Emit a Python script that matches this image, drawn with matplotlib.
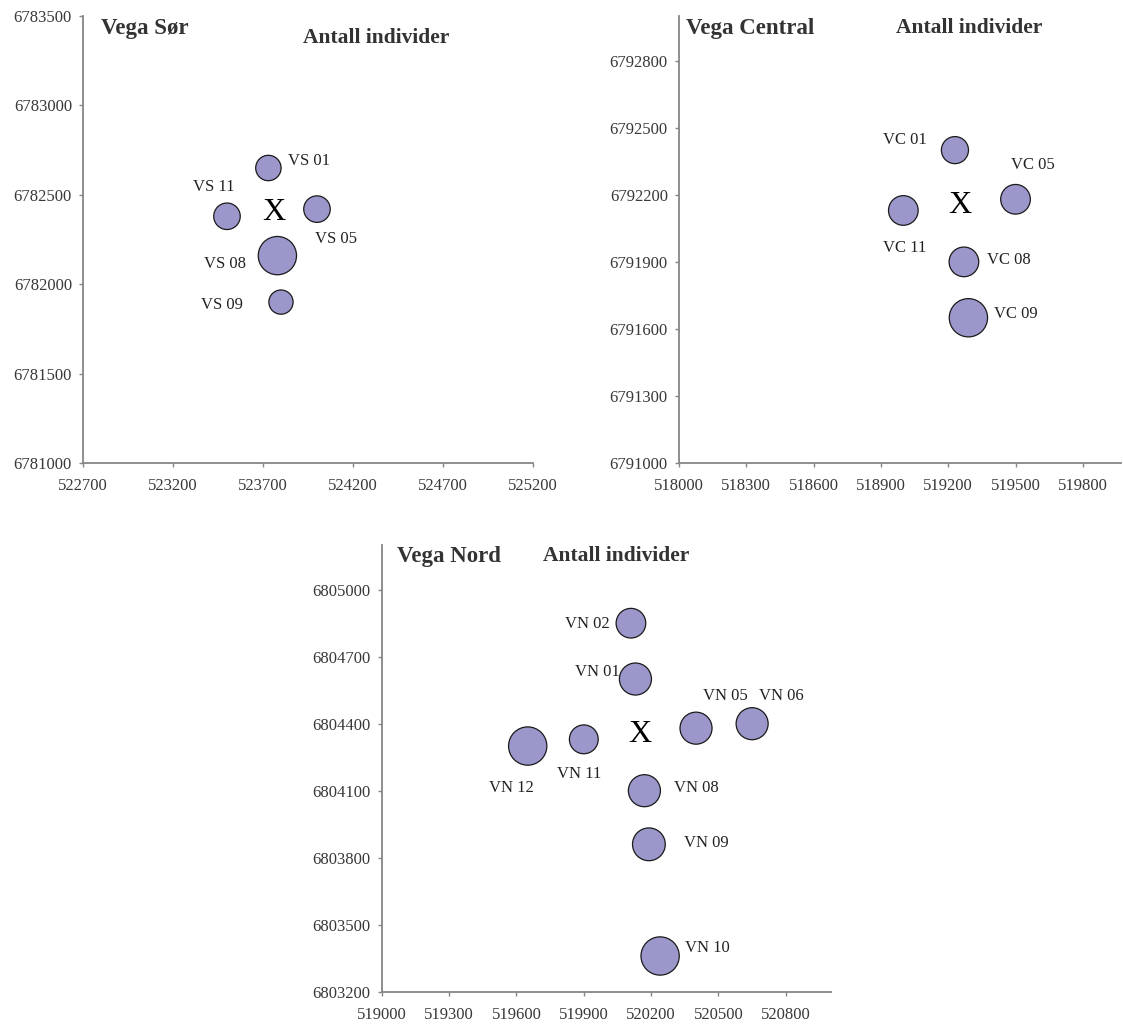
import matplotlib
matplotlib.use("Agg")
import matplotlib.pyplot as plt
import numpy as np

plt.rcParams["font.family"] = ["Liberation Serif", "DejaVu Serif"]

# Vega Sør
sor_navn = ["VS 01", "VS 11", "VS 05", "VS 08", "VS 09"]
sor_x = [523730, 523500, 524000, 523780, 523800]
sor_y = [6782650, 6782380, 6782420, 6782160, 6781900]
sor_antall = [11, 12, 12, 25, 10]
sor_senter = (523760, 6782400)
sor_xticks = [522700, 523200, 523700, 524200, 524700, 525200]
sor_yticks = [6781000, 6781500, 6782000, 6782500, 6783000, 6783500]

# Vega Central
sen_navn = ["VC 01", "VC 05", "VC 11", "VC 08", "VC 09"]
sen_x = [519230, 519500, 519000, 519270, 519290]
sen_y = [6792400, 6792180, 6792130, 6791900, 6791650]
sen_antall = [10, 12, 12, 12, 20]
sen_senter = (519250, 6792150)
sen_xticks = [518000, 518300, 518600, 518900, 519200, 519500, 519800]
sen_yticks = [6791000, 6791300, 6791600, 6791900, 6792200, 6792500, 6792800]

# Vega Nord
nor_navn = ["VN 02", "VN 01", "VN 05", "VN 06", "VN 11", "VN 12", "VN 08", "VN 09", "VN 10"]
nor_x = [520110, 520130, 520400, 520650, 519900, 519650, 520170, 520190, 520240]
nor_y = [6804850, 6804600, 6804380, 6804400, 6804330, 6804300, 6804100, 6803860, 6803360]
nor_antall = [18, 21, 21, 21, 17, 30, 21, 22, 30]
nor_senter = (520150, 6804350)
nor_xticks = [519000, 519300, 519600, 519900, 520200, 520500, 520800]
nor_yticks = [6803200, 6803500, 6803800, 6804100, 6804400, 6804700, 6805000]

# label offsets (pixels) relative to bubble centre
sor_off = [(41, 7), (-13, 29), (19, -30), (-52, -8), (-59, -3)]
sen_off = [(-50, 10), (17, 34), (1, -38), (45, 2), (47, 4)]
nor_off = [(-44, -1), (-38, 7), (29, 32), (29, 28), (-5, -35), (-16, -42), (52, 3), (57, 1), (47, 8)]

fig = plt.figure(figsize=(11.23, 10.26), dpi=100)
GRA = "#868686"
BOBLE = "#9b97cb"
MAX_S = 760  # points^2 for the biggest bubble in each chart


def panel(rect, navn, xs, ys, antall, senter, xticks, yticks, xlim, ylim, off, tittel, tx, ty):
    ax = fig.add_axes(rect)
    a = np.array(antall, dtype=float)
    s = MAX_S * a / a.max()
    ax.scatter(xs, ys, s=s, color=BOBLE, edgecolors="#1a1a1a", linewidths=0.9, zorder=3, clip_on=False)
    for n, x, y, o in zip(navn, xs, ys, off):
        ax.annotate(n, (x, y), xytext=o, textcoords="offset pixels",
                    ha="center", va="center", fontsize=12, color="#222222")
    ax.text(senter[0], senter[1], "X", fontsize=23, ha="center", va="center", color="black")
    ax.set_xlim(*xlim)
    ax.set_ylim(*ylim)
    ax.set_xticks(xticks)
    ax.set_xticklabels([str(t) for t in xticks])
    ax.set_yticks(yticks)
    ax.set_yticklabels([str(t) for t in yticks])
    for sp in ["top", "right"]:
        ax.spines[sp].set_visible(False)
    for sp in ["left", "bottom"]:
        ax.spines[sp].set_color(GRA)
        ax.spines[sp].set_linewidth(1.3)
    ax.tick_params(direction="out", length=3, width=1, color=GRA,
                   labelsize=12, labelcolor="#383838")
    ax.tick_params(axis="x", pad=8)
    ax.tick_params(axis="y", pad=5)
    ax.text(tx[0], ty[0], tittel, transform=ax.transAxes, fontsize=16.5, fontweight="bold",
            color="#333333", ha="left", va="center")
    ax.text(tx[1], ty[1], "Antall individer", transform=ax.transAxes, fontsize=15.5,
            fontweight="bold", color="#333333", ha="left", va="center")
    return ax


panel([0.0739, 0.5487, 0.4007, 0.4357], sor_navn, sor_x, sor_y, sor_antall, sor_senter,
      sor_xticks, sor_yticks, (522700, 525200), (6781000, 6783500), sor_off,
      "Vega Sør", (0.04, 0.49), (0.972, 0.95))

panel([0.6046, 0.5487, 0.3936, 0.4357], sen_navn, sen_x, sen_y, sen_antall, sen_senter,
      sen_xticks, sen_yticks, (518000, 519970), (6791000, 6793000), sen_off,
      "Vega Central", (0.016, 0.49), (0.973, 0.973))

panel([0.34, 0.0334, 0.3997, 0.4354], nor_navn, nor_x, nor_y, nor_antall, nor_senter,
      nor_xticks, nor_yticks, (519000, 521000), (6803200, 6805200), nor_off,
      "Vega Nord", (0.034, 0.359), (0.975, 0.975))

fig.savefig("out.png", dpi=100)
